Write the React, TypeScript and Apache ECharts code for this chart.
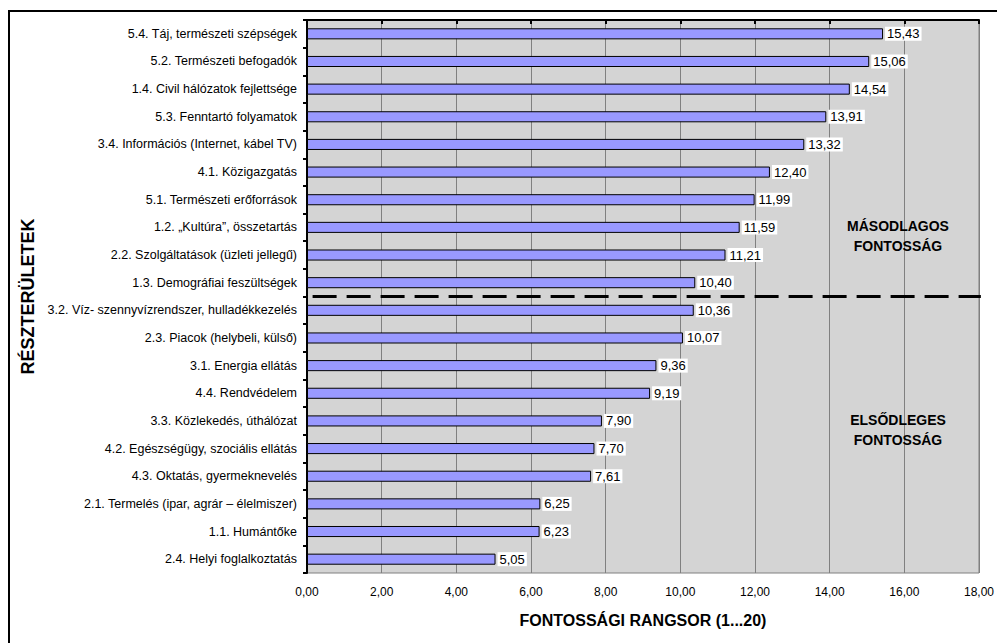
import React, { useEffect, useRef } from "react";
import * as echarts from "echarts";

const categories = [
  "5.4. Táj, természeti szépségek",
  "5.2. Természeti befogadók",
  "1.4. Civil hálózatok fejlettsége",
  "5.3. Fenntartó folyamatok",
  "3.4. Információs (Internet, kábel TV)",
  "4.1. Közigazgatás",
  "5.1. Természeti erőforrások",
  "1.2. „Kultúra”, összetartás",
  "2.2. Szolgáltatások (üzleti jellegű)",
  "1.3. Demográfiai feszültségek",
  "3.2. Víz- szennyvízrendszer, hulladékkezelés",
  "2.3. Piacok (helybeli, külső)",
  "3.1. Energia ellátás",
  "4.4. Rendvédelem",
  "3.3. Közlekedés, úthálózat",
  "4.2. Egészségügy, szociális ellátás",
  "4.3. Oktatás, gyermeknevelés",
  "2.1. Termelés (ipar, agrár – élelmiszer)",
  "1.1. Humántőke",
  "2.4. Helyi foglalkoztatás",
];

const values = [
  15.43, 15.06, 14.54, 13.91, 13.32, 12.4, 11.99, 11.59, 11.21, 10.4, 10.36,
  10.07, 9.36, 9.19, 7.9, 7.7, 7.61, 6.25, 6.23, 5.05,
];

// boundary between secondary and primary importance (after 10 categories)
const dividerPosition = 10;
const dividerLine = [
  [0.15, dividerPosition],
  [18.05, dividerPosition],
];

const xAxisTitle = "FONTOSSÁGI RANGSOR (1...20)";
const yAxisTitle = "RÉSZTERÜLETEK";
const upperLabel = "MÁSODLAGOS\nFONTOSSÁG";
const lowerLabel = "ELSŐDLEGES\nFONTOSSÁG";

const fmt = (v: number) => v.toFixed(2).replace(".", ",");

export default function App() {
  const ref = useRef<HTMLDivElement>(null);
  useEffect(() => {
    if (!ref.current) return;
    const chart = echarts.init(ref.current, undefined, { renderer: "svg" });
    const font = "'Liberation Sans', Arial, sans-serif";
    chart.setOption({
      animation: false,
      backgroundColor: "#ffffff",
      textStyle: { fontFamily: font },
      grid: {
        left: 307,
        right: 17,
        top: 20,
        bottom: 70,
        show: true,
        backgroundColor: "#d4d4d4",
        borderColor: "#808080",
        borderWidth: 1,
      },
      xAxis: [
        {
          type: "value",
          min: 0,
          max: 18,
          interval: 2,
          name: xAxisTitle,
          nameLocation: "middle",
          nameGap: 39,
          nameTextStyle: {
            fontFamily: font,
            fontWeight: "bold",
            fontSize: 16,
            color: "#000",
          },
          axisLine: { show: true, lineStyle: { color: "#000", width: 2 } },
          axisTick: { show: true, length: 4, lineStyle: { color: "#000", width: 2 } },
          axisLabel: {
            formatter: (v: number) => fmt(v),
            fontSize: 12,
            color: "#000",
            margin: 13,
            fontFamily: font,
          },
          splitLine: { show: true, lineStyle: { color: "#808080", width: 1 } },
        },
      ],
      yAxis: [
        {
          type: "category",
          data: categories,
          inverse: true,
          name: yAxisTitle,
          nameLocation: "middle",
          nameRotate: 90,
          nameGap: 268,
          nameTextStyle: {
            fontFamily: font,
            fontWeight: "bold",
            fontSize: 18,
            color: "#000",
          },
          axisLine: { show: true, lineStyle: { color: "#000", width: 2 } },
          axisTick: { show: true, length: 4, lineStyle: { color: "#000", width: 2 } },
          axisLabel: { fontSize: 12.5, color: "#000", margin: 10, fontFamily: font },
          splitLine: { show: false },
        },
        {
          type: "value",
          min: 0,
          max: 20,
          inverse: true,
          show: false,
        },
      ],
      series: [
        {
          type: "bar",
          data: values,
          barWidth: "40%",
          itemStyle: { color: "#9999ff", borderColor: "#000", borderWidth: 1 },
          label: {
            show: true,
            position: "right",
            distance: 2,
            formatter: (p: any) => fmt(p.value),
            backgroundColor: "#ffffff",
            padding: [1, 2, 0, 2],
            color: "#000",
            fontSize: 13,
            fontFamily: font,
          },
        },
        {
          type: "line",
          yAxisIndex: 1,
          data: dividerLine,
          symbol: "none",
          lineStyle: { color: "#000", width: 3, type: [24, 10] },
          z: 5,
        },
      ],
      graphic: [
        {
          type: "rect",
          shape: { x: 9, y: 11, width: 1000, height: 700 },
          style: { fill: "none", stroke: "#000", lineWidth: 2 },
          silent: true,
          z: 100,
        },
        {
          type: "text",
          x: 898,
          y: 236,
          style: {
            text: upperLabel,
            fontFamily: font,
            fontWeight: "bold",
            fontSize: 14,
            fill: "#000",
            align: "center",
            verticalAlign: "middle",
            lineHeight: 20,
          },
          z: 100,
        },
        {
          type: "text",
          x: 898,
          y: 430,
          style: {
            text: lowerLabel,
            fontFamily: font,
            fontWeight: "bold",
            fontSize: 14,
            fill: "#000",
            align: "center",
            verticalAlign: "middle",
            lineHeight: 20,
          },
          z: 100,
        },
      ],
    });
    return () => chart.dispose();
  }, []);
  return (
    <div
      ref={ref}
      style={{ position: "fixed", left: 0, top: 0, width: 997, height: 643 }}
    />
  );
}
